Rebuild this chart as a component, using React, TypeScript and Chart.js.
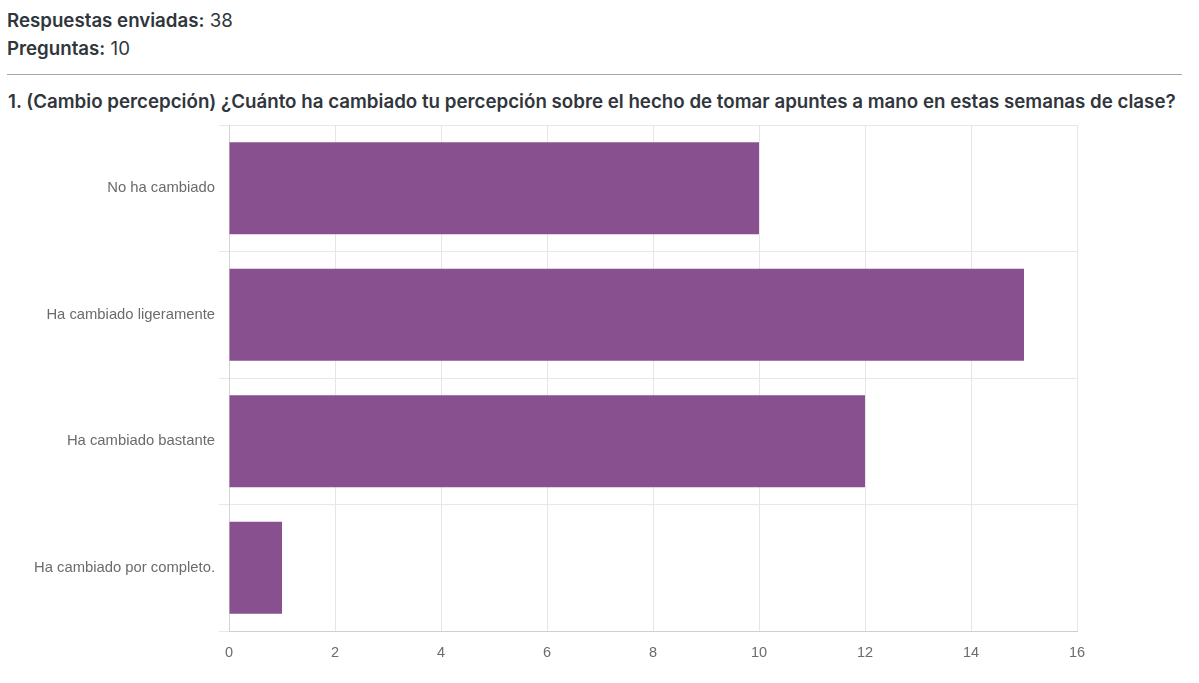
import React, { useEffect, useRef } from "react";
import { Chart, registerables } from "chart.js";

Chart.register(...registerables);

const categories = [
  "No ha cambiado",
  "Ha cambiado ligeramente",
  "Ha cambiado bastante",
  "Ha cambiado por completo.",
];
const responses = [10, 15, 12, 1];

const textStyle: React.CSSProperties = {
  position: "absolute",
  left: 7,
  margin: 0,
  fontFamily: "Inter, sans-serif",
  color: "#30363c",
  whiteSpace: "nowrap",
  lineHeight: "24px",
};

const App = () => {
  const canvasRef = useRef<HTMLCanvasElement>(null);

  useEffect(() => {
    const chart = new Chart(canvasRef.current as HTMLCanvasElement, {
      type: "bar",
      data: {
        labels: categories,
        datasets: [
          {
            label: "Respuestas",
            data: responses,
            backgroundColor: "#88508f",
            barPercentage: 0.727,
            categoryPercentage: 1,
          },
        ],
      },
      options: {
        indexAxis: "y",
        responsive: false,
        animation: false,
        layout: { padding: { top: 125, right: 122, bottom: 0, left: 0 } },
        plugins: { legend: { display: false }, tooltip: { enabled: false } },
        scales: {
          x: {
            min: 0,
            max: 16,
            afterFit: (s: any) => {
              s.height = 52;
            },
            ticks: {
              stepSize: 2,
              color: "#6b6b6b",
              padding: 13,
              font: { family: "Liberation Sans", size: 14.5 },
            },
            grid: { color: "#e6e6e6", lineWidth: 1, tickLength: 0 },
            border: { color: "#cfcfcf", width: 1 },
          },
          y: {
            afterFit: (s: any) => {
              s.width = 229;
            },
            ticks: {
              color: "#6b6b6b",
              padding: 4,
              font: { family: "Liberation Sans", size: 14.8 },
            },
            grid: { color: "#e8e8e8", lineWidth: 1, tickLength: 10 },
            border: { color: "#d4d4d4", width: 1 },
          },
        },
      },
    });

    return () => {
      chart.destroy();
    };
  }, []);

  return (
    <div style={{ position: "absolute", left: 0, top: 0, width: 1199, height: 683, background: "#fff" }}>
      <p style={{ ...textStyle, top: 9, fontSize: 18.7 }}>
        <span style={{ fontWeight: 600 }}>Respuestas enviadas:</span> 38
      </p>
      <p style={{ ...textStyle, top: 37, fontSize: 18.7 }}>
        <span style={{ fontWeight: 600 }}>Preguntas:</span> 10
      </p>
      <div style={{ position: "absolute", left: 7, top: 74, width: 1175, height: 1, background: "#a8a8a8" }} />
      <p style={{ ...textStyle, top: 90, fontSize: 18.73, fontWeight: 600, left: 8 }}>
        1. (Cambio percepción) ¿Cuánto ha cambiado tu percepción sobre el hecho de tomar apuntes a mano en estas semanas de clase?
      </p>
      <canvas ref={canvasRef} width={1199} height={683} style={{ position: "absolute", left: 0, top: 0 }} />
    </div>
  );
};

export default App;
